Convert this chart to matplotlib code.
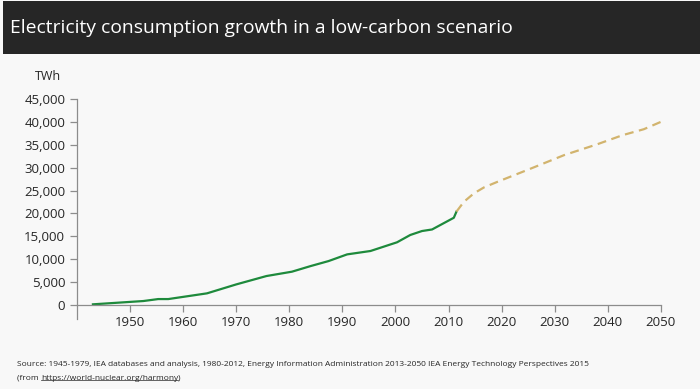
import matplotlib
matplotlib.use("Agg")
import matplotlib.pyplot as plt
from matplotlib.patches import Rectangle
from matplotlib.lines import Line2D
from matplotlib.ticker import FuncFormatter

# historical consumption (TWh)
hist_years = [1943, 1952.5, 1955.3, 1957.2, 1964.5, 1970, 1975.7, 1980.5, 1984,
              1987.4, 1990.9, 1995.3, 2000.3, 2002.8, 2005, 2006.9, 2011, 2011.5]
hist_twh = [150, 870, 1300, 1300, 2550, 4500, 6330, 7280, 8500,
            9600, 11060, 11800, 13700, 15300, 16160, 16500, 19060, 20400]

# low-carbon scenario projection (TWh)
proj_years = [2011.5, 2012.9, 2014.8, 2016.7, 2019.2, 2025.5, 2031.8, 2038, 2042.8, 2046.8, 2050]
proj_twh = [20400, 22550, 24400, 25700, 26900, 29800, 32750, 35100, 37100, 38400, 40000]

x_ticks = [1950, 1960, 1970, 1980, 1990, 2000, 2010, 2020, 2030, 2040, 2050]
y_ticks = list(range(0, 45001, 5000))

bg = "#f8f8f8"
axis_col = "#8c8c8c"
txt_col = "#262626"
plt.rcParams["font.family"] = ["Open Sans", "DejaVu Sans"]

fig = plt.figure(figsize=(7, 3.89), dpi=100, facecolor=bg)
ax = fig.add_axes([0.11, 0.2159, 0.834, 0.5296], facecolor=bg)

# title bar
fig.patches.append(Rectangle((3 / 700, 1 - 54 / 389), 1, 53 / 389, transform=fig.transFigure,
                             facecolor="#262626", edgecolor="none", zorder=0))
fig.text(10 / 700, 1 - 28 / 389, "Electricity consumption growth in a low-carbon scenario",
         color="white", fontsize=13.9, va="center", ha="left")

ax.plot(hist_years, hist_twh, color="#1e8a3c", lw=1.6, solid_joinstyle="round")
ax.plot(proj_years, proj_twh, color="#d2b46e", lw=1.6, dashes=(4, 2.5))

ax.set_xlim(1940, 2050)
ax.set_ylim(0, 45000)
ax.set_xticks(x_ticks)
ax.set_yticks(y_ticks)
ax.yaxis.set_major_formatter(FuncFormatter(lambda v, p: f"{int(v):,}"))

for s in ["top", "right"]:
    ax.spines[s].set_visible(False)
for s in ["left", "bottom"]:
    ax.spines[s].set_color(axis_col)
    ax.spines[s].set_linewidth(0.9)
ax.spines["left"].set_bounds(-3000, 45000)
ax.tick_params(axis="both", colors=axis_col, labelcolor=txt_col, labelsize=9.5, length=5, width=0.9)
ax.tick_params(axis="x", pad=3)

ax.text(-0.05, 1.107, "TWh", transform=ax.transAxes, fontsize=9, color=txt_col, ha="center", va="center")

fig.text(17 / 700, 1 - 365 / 389,
         "Source: 1945-1979, IEA databases and analysis, 1980-2012, Energy Information Administration 2013-2050 IEA Energy Technology Perspectives 2015",
         fontsize=6, color=txt_col, va="center", ha="left")
t1 = fig.text(17 / 700, 1 - 378 / 389, "(from ", fontsize=6, color=txt_col, va="center", ha="left")
fig.canvas.draw()
r = fig.canvas.get_renderer()
bb = t1.get_window_extent(r)
x_url = bb.x1 / 700
t2 = fig.text(x_url, 1 - 378 / 389, "https://world-nuclear.org/harmony", fontsize=6,
              color=txt_col, va="center", ha="left")
bb2 = t2.get_window_extent(r)
fig.text(bb2.x1 / 700, 1 - 378 / 389, ")", fontsize=6, color=txt_col, va="center", ha="left")
uy = (bb2.y0 + 1.5) / 389
fig.lines.append(Line2D([bb2.x0 / 700, bb2.x1 / 700], [uy, uy], transform=fig.transFigure,
                        color=txt_col, lw=0.5))

fig.savefig("out.png", dpi=100, facecolor=bg)
